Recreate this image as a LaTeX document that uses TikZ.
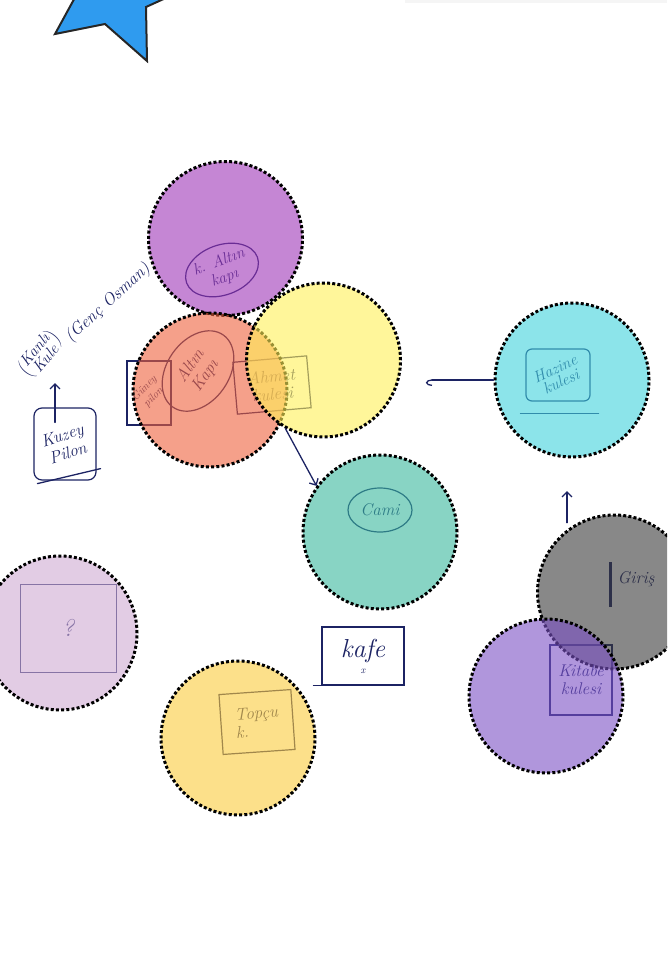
\documentclass[tikz,border=0pt]{standalone}
\usetikzlibrary{arrows.meta,shapes.geometric}
\definecolor{ink}{RGB}{28,35,99}
\definecolor{sky}{RGB}{47,155,239}
\definecolor{orchid}{RGB}{158,53,183}
\definecolor{salmon}{RGB}{238,97,60}
\definecolor{lemon}{RGB}{255,240,87}
\definecolor{aqua}{RGB}{63,210,220}
\definecolor{jade}{RGB}{57,183,157}
\definecolor{slate}{RGB}{57,57,57}
\definecolor{violetb}{RGB}{123,80,197}
\definecolor{lilac}{RGB}{207,170,210}
\definecolor{honey}{RGB}{250,203,60}

\tikzset{
  spot/.style={circle,draw=black,line width=3pt,dash pattern=on 3pt off 2.2pt,fill opacity=0.6,minimum size=154pt,inner sep=0pt},
  scrawl/.style={text=ink,font=\fontsize{17}{18}\selectfont\itshape,align=center,inner sep=2pt},
  sketch/.style={scrawl,draw=ink,line width=1.2pt},
  inkline/.style={draw=ink,line width=1.3pt,line cap=round},
  inkarrow/.style={inkline,-{Straight Barb[length=5pt,width=10pt]}},
}

\begin{document}
\begin{tikzpicture}[x=1pt,y=-1pt]
\clip (0,0) rectangle (667,967);
% star and top edge
\filldraw[fill=sky,draw=black!85,line width=2pt,line join=miter] (142.5,-93.9) -- (106.8,-51.5) -- (52.3,-61.6) -- (81.6,-14.6) -- (55,34) -- (105,24) -- (147,61) -- (146,7) -- (201,-18) -- (149.7,-38.9) -- cycle;
\fill[black!4] (405,0) rectangle (667,2.5);

% hand notes, under the discs
\node[scrawl,rotate=50,font=\fontsize{16}{19}\selectfont\itshape] (kanli) at (40,354) {$\left(\vcenter{\hbox{\shortstack{Kanlı\\Kule}}}\right)$};
\node[scrawl,rotate=42] (osman) at (108,303) {(Genç Osman)};
\node[sketch,rounded corners=8pt,minimum width=62pt,minimum height=72pt] (kuzey) at (65,444) {\rotatebox{18}{\shortstack{Kuzey\\Pilon}}};
\draw[inkline] ([xshift=4pt,yshift=-3pt]kuzey.south west) -- ([xshift=4pt,yshift=12pt]kuzey.south east);
\coordinate (kanlipt) at (55,383);
\draw[inkarrow] ([xshift=-10pt,yshift=-15pt]kuzey.north) -- (kanlipt);
\node[sketch,ellipse,rotate=20,minimum width=60pt,minimum height=50pt,inner sep=0pt,font=\fontsize{16}{17}\selectfont\itshape] (kaltinlbl) at (222,270) {k. Altın\\kapı};
\node[sketch,minimum width=44pt,minimum height=64pt,inner sep=0pt,font=\fontsize{11}{12}\selectfont\itshape] (guneylbl) at (149,393) {\rotatebox{45}{\shortstack{Güney\\pilon}}};
\node[sketch,ellipse,rotate=55,minimum width=88pt,minimum height=62pt,inner sep=0pt] (altinlbl) at (198,371) {Altın\\Kapı};
\node[sketch,rotate=5,minimum width=74pt,minimum height=52pt] (ahmetlbl) at (272,385) {Ahmet\\kulesi};
\node[sketch,rounded corners=6pt,minimum width=64pt,minimum height=52pt,font=\fontsize{16}{17}\selectfont\itshape] (hazinelbl) at (558,375) {\rotatebox{25}{\shortstack{Hazine\\kulesi}}};
\draw[inkline] ([xshift=-5pt,yshift=-12pt]hazinelbl.south west) -- ([xshift=8pt,yshift=-12pt]hazinelbl.south east);
\node[sketch,ellipse,minimum width=64pt,minimum height=44pt] (camilbl) at (380,510) {Cami};
\node[sketch,line width=1pt,minimum width=96pt,minimum height=88pt,font=\fontsize{24}{24}\selectfont\itshape] (soru) at (68,628) {?};
\node[sketch,rotate=4,align=left,minimum width=72pt,minimum height=60pt] (topculbl) at (257,722) {Topçu\\k.};
\node[sketch,minimum width=82pt,minimum height=58pt,font=\fontsize{26}{22}\selectfont\itshape] (kafelbl) at (363,656) {kafe\\[-6pt]{\fontsize{10}{10}\selectfont x}};
\draw[inkline] (kafelbl.south west) -- ([xshift=-8pt]kafelbl.south west);
\node[scrawl] (girislbl) at (636,579) {Giriş};
\draw[ink,line width=3pt] ([xshift=-5pt,yshift=17pt]girislbl.west) -- ([xshift=-5pt,yshift=-28pt]girislbl.west);
\node[sketch,minimum width=62pt,minimum height=70pt] (kitabelbl) at (581,680) {Kitabe\\kulesi};

% discs
\node[spot,fill=orchid] (kaltin) at (225.5,238.5) {};
\node[spot,fill=salmon] (altin) at (210,390) {};
\node[spot,fill=lemon] (ahmet) at (323.5,360) {};
\node[spot,fill=aqua] (hazine) at (572,380) {};
\node[spot,fill=jade] (cami) at (380,532) {};
\node[spot,fill=slate] (giris) at (614.5,592) {};
\node[spot,fill=violetb] (kitabe) at (546,696) {};
\node[spot,fill=lilac] (bilinmez) at (60,633) {};
\node[spot,fill=honey] (topcu) at (238,738) {};

% links
\coordinate (hazinetip) at (426,380);
\coordinate (girisup) at (567,491);
\draw[inkarrow] (ahmet.241) -- (cami.144);
\draw[inkline,-{Hooks[left,length=6pt,width=12pt]}] (hazine.west) -- (hazinetip);
\draw[inkarrow] (giris.118 -| girisup) -- (girisup);
\end{tikzpicture}
\end{document}
